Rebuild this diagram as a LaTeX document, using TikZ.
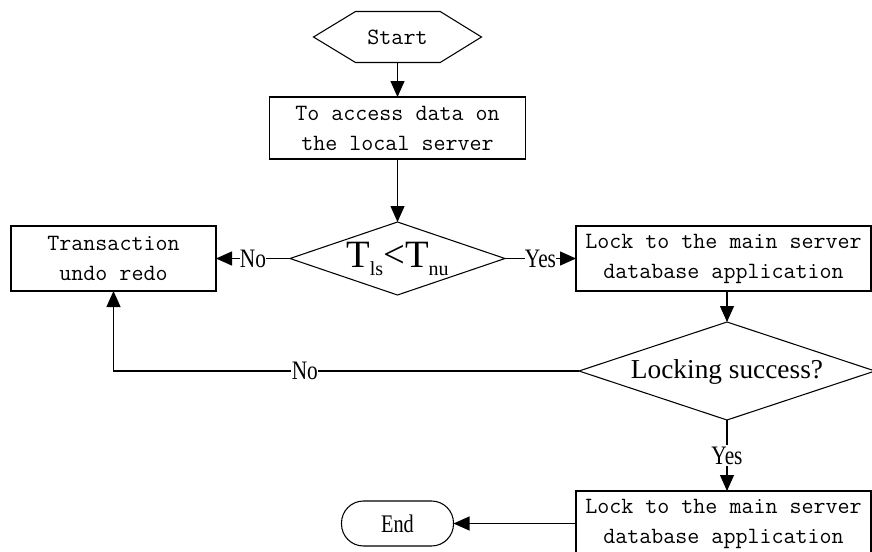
\documentclass[tikz,border=0pt]{standalone}
\usepackage{fontspec}
\setmainfont{Liberation Serif}
\newfontfamily\lblfont[FakeStretch=0.8]{Liberation Serif}
\usetikzlibrary{shapes.geometric,arrows.meta}
\tikzset{
  every node/.style={outer sep=0pt, inner sep=0pt},
  monotxt/.style={font=\ttfamily\fontsize{17.5pt}{22.5pt}\selectfont, align=center},
  procbox/.style={draw, line width=0.8pt, monotxt},
  decision/.style={draw, diamond, line width=0.8pt},
  lbl/.style={fill=white, font=\lblfont\fontsize{20pt}{20pt}\selectfont, inner xsep=0.3pt, inner ysep=1pt},
  arr/.style={line width=0.8pt, -{Triangle[length=12pt,width=10.5pt]}},
  conn/.style={line width=0.8pt}
}
\begin{document}
\begin{tikzpicture}[x=0.75pt, y=-0.75pt]
\useasboundingbox (0,0) rectangle (872,551);
% start hexagon
\node[monotxt, minimum width=126pt, minimum height=38.25pt] (start) at (397.5,37) {Start};
\draw[line width=0.8pt] (start.west) -- ([xshift=31.5pt]start.north west) -- ([xshift=-31pt]start.north east) -- (start.east) -- ([xshift=-31pt]start.south east) -- ([xshift=31.5pt]start.south west) -- cycle;
% boxes
\node[procbox, minimum width=192pt, minimum height=46.5pt] (box1) at (397.5,128) {To access data on\\the local server};
\node[decision, minimum width=161.25pt, minimum height=54.75pt] (dia1) at (397.5,258.5) {};
\node[font=\fontsize{29pt}{29pt}\selectfont] (dia1t) at (397.5,259) {T\raisebox{-0.2em}{\fontsize{15pt}{15pt}\selectfont ls}<T\raisebox{-0.2em}{\fontsize{15pt}{15pt}\selectfont nu}};
\node[procbox, minimum width=153.75pt, minimum height=48.75pt] (undo) at (113.5,258.5) {Transaction\\undo redo};
\node[procbox, minimum width=221.25pt, minimum height=48.75pt] (lock1) at (723.5,258.5) {Lock to the main server\\database application};
\node[decision, minimum width=222pt, minimum height=73.5pt] (dia2) at (727,371) {};
\node[font=\fontsize{20.5pt}{20.5pt}\selectfont] (dia2t) at (727,372) {Locking success?};
\node[procbox, minimum width=221.25pt, minimum height=48.75pt] (lock2) at (723.5,523.5) {Lock to the main server\\database application};
\node[draw, line width=0.8pt, rounded corners=16.5pt, minimum width=84pt, minimum height=33.75pt, font=\lblfont\fontsize{19pt}{19pt}\selectfont] (end) at (397.5,523.5) {End};
% connectors
\draw[arr] (start.south) -- (box1.north);
\draw[arr] (box1.south) -- (dia1.north);
\draw[arr] (dia1.west) -- node[lbl]{No} (undo.east);
\draw[arr] (dia1.east) -- node[lbl]{Yes} (lock1.west);
\draw[arr] (lock1.south -| dia2.north) -- (dia2.north);
\draw[arr] (dia2.west) -- node[lbl, pos=0.589]{No} (undo.south |- dia2.west) -- (undo.south);
\draw[arr] (dia2.south) -- node[lbl]{Yes} (dia2.south |- lock2.north);
\draw[arr] (lock2.west) -- (end.east);
\end{tikzpicture}
\end{document}
